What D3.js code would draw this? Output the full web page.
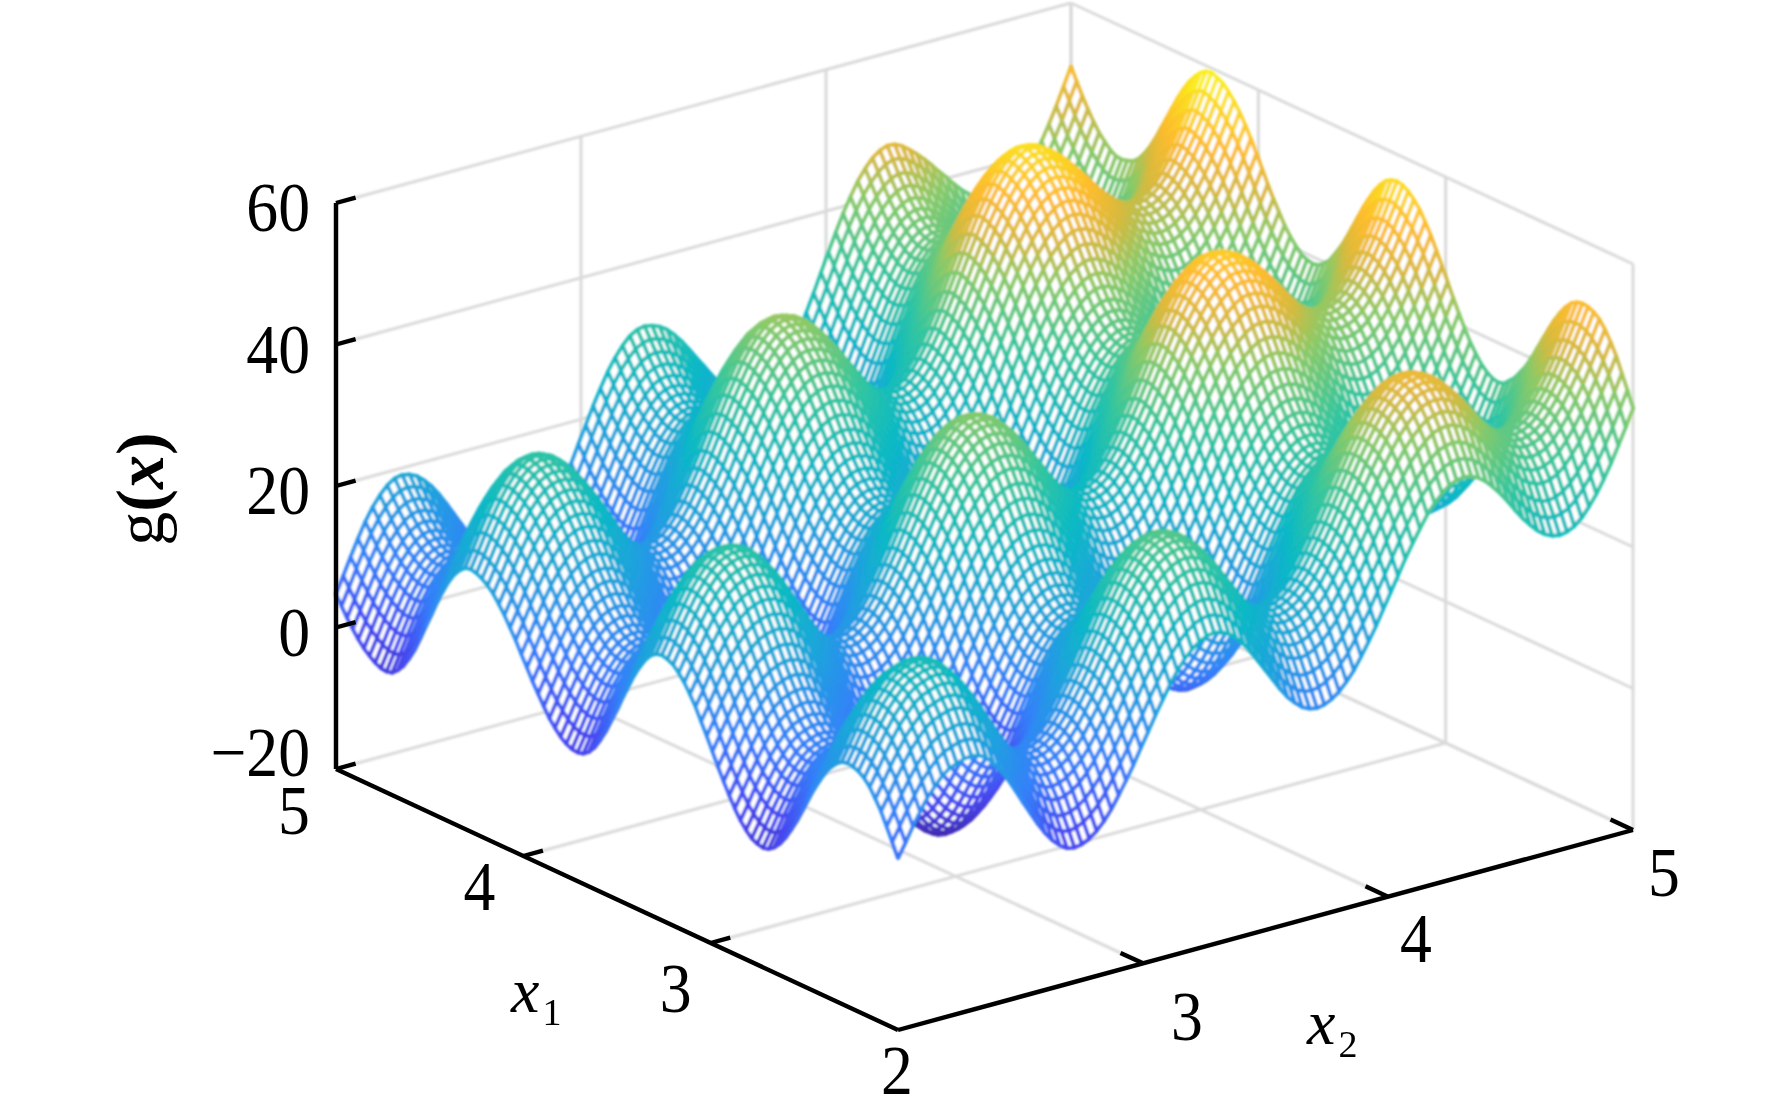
<!DOCTYPE html>
<html>
<head>
<meta charset="utf-8">
<title>g(x) surface</title>
<script src="https://cdn.jsdelivr.net/npm/d3@7"></script>
<style>
  html, body { margin: 0; padding: 0; background: #fff; }
  text { font-family: "Liberation Serif", serif; fill: #000; }
</style>
</head>
<body>
<svg id="chart" width="1772" height="1114">
  <defs>
    <filter id="soft" x="0" y="0" width="1772" height="1114" filterUnits="userSpaceOnUse"><feGaussianBlur stdDeviation="1.2"/></filter>
    <filter id="softText"><feGaussianBlur stdDeviation="0.45"/></filter>
  </defs>
</svg>
<script>
// mesh lines, x1 and x2 both run 2..5 in steps of 0.03
const gridValues = d3.range(101).map(i => 2 + i * 0.03);

// g read along the edge x2 = 2, one value per x1 line
const nearEdge = [4.3,6.2,8.0,9.8,11.2,12.5,13.4,14.0,14.3,14.4,14.2,13.6,12.7,11.5,10.0,8.4,6.6,4.7,2.9,1.3,-0.2,-1.4,-2.3,-2.9,-3.1,
  -2.9,-2.5,-1.7,-0.7,0.6,2.1,3.7,5.4,7.2,9.0,10.7,12.4,13.8,15.1,16.1,16.9,17.3,17.5,17.3,16.7,15.7,14.3,12.7,10.8,8.9,
  6.8,4.9,3.0,1.4,0.0,-1.0,-1.6,-1.8,-1.7,-1.3,-0.7,0.2,1.2,2.5,3.9,5.3,6.9,8.4,10.0,11.4,12.8,14.0,15.1,15.9,16.5,
  16.9,17.1,16.9,16.2,15.2,13.8,12.1,10.2,8.1,6.1,4.0,2.0,0.4,-1.0,-2.0,-2.7,-2.9,-2.8,-2.4,-1.8,-1.1,-0.2,0.9,2.1,3.4,4.7];

// g read along the edge x2 = 5, one value per x1 line
const farEdge = [39.6,41.8,43.8,45.9,47.5,48.9,50.0,50.6,51.0,51.1,50.9,50.4,49.5,48.3,46.9,45.3,43.6,41.9,40.2,38.6,37.4,36.2,35.4,34.6,34.4,
  34.6,35.1,35.9,37.0,38.3,39.9,41.6,43.4,45.3,47.2,49.0,50.8,52.3,53.7,54.7,55.5,56.0,56.2,56.0,55.5,54.6,53.4,51.9,50.3,48.5,
  46.7,44.9,43.3,41.9,40.6,39.8,39.2,39.0,39.2,39.6,40.4,41.4,42.6,44.1,45.6,47.3,49.1,50.9,52.6,54.2,55.6,56.8,57.8,58.6,59.0,
  59.4,59.2,58.6,57.7,56.6,55.2,53.6,51.8,50.0,48.2,46.4,44.8,43.5,42.4,41.7,41.4,41.2,41.3,41.8,42.6,43.5,44.7,46.1,47.6,49.3,51.0];

// g read along the edge x1 = 2, one value per x2 line
const sideEdge = [4.3,6.2,8.2,10.0,11.7,13.0,14.2,15.0,15.4,15.8,15.9,15.7,15.1,14.0,12.7,11.1,9.3,7.4,5.6,3.8,2.2,0.9,-0.1,-0.8,-1.0,
  -0.8,-0.3,0.5,1.6,3.0,4.7,6.5,8.4,10.5,12.5,14.6,16.5,18.4,20.0,21.4,22.5,23.3,23.8,24.0,23.8,23.3,22.4,21.3,19.9,18.3,
  16.7,15.1,13.5,12.1,11.0,10.1,9.6,9.4,9.6,10.1,10.9,12.0,13.3,15.0,16.8,18.7,20.8,22.9,25.0,27.1,29.0,30.8,32.5,33.8,34.9,
  35.8,36.2,36.4,36.2,35.7,34.9,33.8,32.6,31.2,29.7,28.3,27.1,26.0,25.2,24.7,24.5,24.7,25.2,26.1,27.4,28.9,30.7,32.7,34.9,37.2,39.6];

// g read along the edge x1 = 5, one value per x2 line
const backEdge = [4.7,7.0,9.4,11.7,13.8,15.6,17.0,18.1,18.8,19.0,18.8,18.3,17.4,16.3,14.9,13.3,11.6,9.9,8.2,6.7,5.4,4.1,3.3,2.7,2.5,
  2.7,3.3,4.4,5.8,7.5,9.6,11.8,14.1,16.6,19.0,21.4,23.6,25.7,27.4,28.8,29.9,30.5,30.7,30.5,30.1,29.4,28.4,27.2,25.8,24.3,
  22.9,21.4,20.0,18.8,17.8,17.1,16.6,16.5,16.7,17.4,18.5,20.0,21.9,24.0,26.4,28.9,31.5,34.1,36.6,39.0,41.1,43.0,44.5,45.7,46.5,
  46.9,46.8,46.3,45.5,44.6,43.6,42.5,41.3,40.2,39.0,37.9,37.0,36.1,35.6,35.1,35.0,35.2,35.8,36.7,38.0,39.7,41.6,43.7,46.0,48.5,51.0];

const x1Ticks = [2, 3, 4, 5];
const x2Ticks = [2, 3, 4, 5];
const zTicks = [-20, 0, 20, 40, 60];
const colorStops = ["#3e26a8", "#4748f1", "#3482f9", "#1fa2de", "#0cb9c5", "#35c69f", "#8bca68", "#d8ba3e", "#fdbc2e", "#f9fb15"];
const colorBreaks = [-8, 0, 8, 16, 24, 32, 40, 45, 50, 60];

const svg = d3.select("#chart");

// oblique view of the box, every axis gets its own pair of screen scales
const originX = 898, originY = 1030;
const x1ToX = d3.scaleLinear().domain([2, 5]).range([0, -562]);
const x1ToY = d3.scaleLinear().domain([2, 5]).range([0, -261]);
const x2ToX = d3.scaleLinear().domain([2, 5]).range([0, 735]);
const x2ToY = d3.scaleLinear().domain([2, 5]).range([0, -200]);
const zToY = d3.scaleLinear().domain([-20, 60]).range([0, -566]);

function project(x1, x2, z) {
    return [originX + x1ToX(x1) + x2ToX(x2), originY + x1ToY(x1) + x2ToY(x2) + zToY(z)];
}

const line = d3.line();
const color = d3.scaleLinear().domain(colorBreaks).range(colorStops).clamp(true);

// table for the mesh, built only from the four edge readings
const last = gridValues.length - 1;
const surface = gridValues.map((x1, i) => gridValues.map((x2, j) => {
    const u = i / last, v = j / last;
    return (1 - u) * sideEdge[j] + u * backEdge[j] + (1 - v) * nearEdge[i] + v * farEdge[i]
        - ((1 - u) * (1 - v) * nearEdge[0] + u * (1 - v) * nearEdge[last] + (1 - u) * v * farEdge[0] + u * v * farEdge[last]);
}));

// back walls and floor
const grid = svg.append("g").attr("fill", "none").attr("stroke", "#dadada").attr("stroke-width", 3).attr("filter", "url(#soft)");
function gridLine(a, b) {
    grid.append("path").attr("d", line([project(...a), project(...b)]));
}
x2Ticks.forEach(v => {
    gridLine([5, v, -20], [5, v, 60]);
    if (v > 2) gridLine([2, v, -20], [5, v, -20]);
});
x1Ticks.forEach(v => {
    gridLine([v, 5, -20], [v, 5, 60]);
    if (v < 5) gridLine([v, 2, -20], [v, 5, -20]);
});
zTicks.forEach(v => {
    gridLine([5, 2, v], [5, 5, v]);
    gridLine([5, 5, v], [2, 5, v]);
});

// mesh cells, far corner first so nearer ones cover them
const cells = [];
for (let i = last - 1; i >= 0; i--) {
    for (let j = last - 1; j >= 0; j--) {
        cells.push({ i, j });
    }
}
svg.append("g").attr("stroke-width", 3.8).attr("stroke-linejoin", "round").attr("filter", "url(#soft)")
    .selectAll("path").data(cells).enter().append("path")
    .attr("fill", "#fff")
    .attr("stroke", d => color((surface[d.i][d.j] + surface[d.i + 1][d.j] + surface[d.i][d.j + 1] + surface[d.i + 1][d.j + 1]) / 4))
    .attr("d", d => line([
        project(gridValues[d.i], gridValues[d.j], surface[d.i][d.j]),
        project(gridValues[d.i + 1], gridValues[d.j], surface[d.i + 1][d.j]),
        project(gridValues[d.i + 1], gridValues[d.j + 1], surface[d.i + 1][d.j + 1]),
        project(gridValues[d.i], gridValues[d.j + 1], surface[d.i][d.j + 1])
    ]) + "Z");

// axes and ticks
const axes = svg.append("g").attr("fill", "none").attr("stroke", "#000").attr("stroke-width", 4.4);
function axisLine(a, b) {
    axes.append("path").attr("d", line([project(...a), project(...b)]));
}
axisLine([5, 2, -20], [5, 2, 60]);
axisLine([5, 2, -20], [2, 2, -20]);
axisLine([2, 2, -20], [2, 5, -20]);
zTicks.forEach(v => axisLine([5, 2, v], [5, 2.08, v]));
x1Ticks.slice(1, 3).forEach(v => axisLine([v, 2, -20], [v, 2.08, -20]));
x2Ticks.slice(1).forEach(v => axisLine([2, v, -20], [2.12, v, -20]));

// tick labels sit by hand around the box in the original, so each has its own offset
const labels = svg.append("g").attr("font-size", 70).attr("filter", "url(#softText)");
function tickLabel(x, y, anchor, txt) {
    labels.append("text").attr("transform", `translate(${x},${y}) scale(0.91,1)`)
        .attr("text-anchor", anchor).text(txt);
}
zTicks.forEach(v => {
    const p = project(5, 2, v);
    tickLabel(p[0] - 26, p[1] + (v === -20 ? 7 : 28), "end", v < 0 ? "\u2212" + Math.abs(v) : v);
});
const x1Offsets = { 2: [-1, 64], 3: [-35, 69], 4: [-44, 54], 5: [-42, 65] };
x1Ticks.forEach(v => {
    const p = project(v, 2, -20);
    tickLabel(p[0] + x1Offsets[v][0], p[1] + x1Offsets[v][1], "middle", v);
});
const x2Offsets = { 3: [44, 77], 4: [28, 65], 5: [31, 66] };
x2Ticks.slice(1).forEach(v => {
    const p = project(2, v, -20);
    tickLabel(p[0] + x2Offsets[v][0], p[1] + x2Offsets[v][1], "middle", v);
});

// axis names
function axisName(x, y, sub) {
    const t = svg.append("text").attr("x", x).attr("y", y).attr("font-size", 64).attr("filter", "url(#softText)");
    t.append("tspan").attr("font-style", "italic").text("x");
    t.append("tspan").attr("font-size", 38).attr("dx", 3).attr("dy", 13).text(sub);
}
axisName(511, 1012, 1);
axisName(1307, 1044, 2);

const zName = svg.append("text")
    .attr("transform", "translate(163,489) rotate(-90)")
    .attr("text-anchor", "middle").attr("font-size", 68).attr("filter", "url(#softText)");
zName.append("tspan").text("g");
zName.append("tspan").attr("font-weight", "bold").text("(");
zName.append("tspan").attr("font-weight", "bold").attr("font-style", "italic").text("x");
zName.append("tspan").attr("font-weight", "bold").text(")");
</script>
</body>
</html>
